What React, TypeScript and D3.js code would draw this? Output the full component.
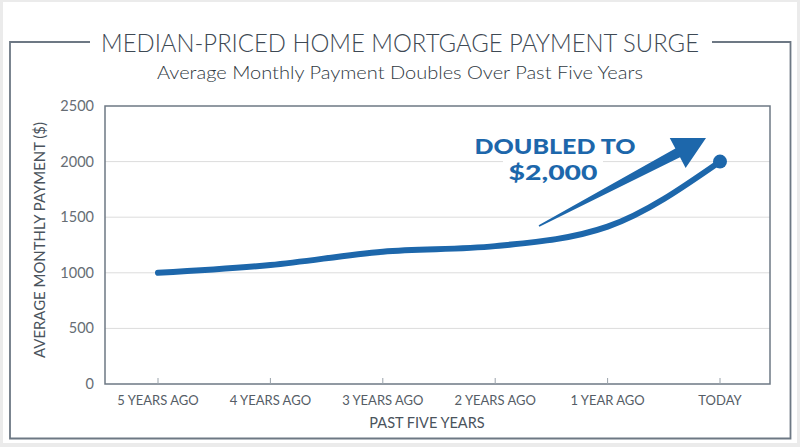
import React from "react";
import * as d3 from "d3";

const categories = ["5 YEARS AGO", "4 YEARS AGO", "3 YEARS AGO", "2 YEARS AGO", "1 YEAR AGO", "TODAY"];
const payments = [1000, 1070, 1190, 1240, 1415, 2000];
const yTicks = [0, 500, 1000, 1500, 2000, 2500];

const W = 800;
const H = 447;
const plot = { left: 105, right: 770, top: 106, bottom: 384 };
const BLUE = "#1d67ab";
const FRAME = "#6d7884";
const TEXT = "#3e4954";

export default function App() {
  const x = d3
    .scalePoint<string>()
    .domain(categories)
    .range([158, 720]);
  const y = d3.scaleLinear().domain([0, 2500]).range([plot.bottom, plot.top]);

  const line = d3
    .line<number>()
    .x((_, i) => x(categories[i]) as number)
    .y((d) => y(d))
    .curve(d3.curveMonotoneX);

  const lastX = x(categories[categories.length - 1]) as number;
  const lastY = y(payments[payments.length - 1]);

  // annotation arrow (tapered shaft + head)
  const tail = [539, 226];
  const tip = [706, 138];
  const dx = tip[0] - tail[0];
  const dy = tip[1] - tail[1];
  const len = Math.hypot(dx, dy);
  const ux = dx / len, uy = dy / len;
  const nx = -uy, ny = ux;
  const headLen = 32;
  const headHalf = 17;
  const shaftHalf = 5;
  const bx = tip[0] - ux * headLen, by = tip[1] - uy * headLen;
  const arrowPts = [
    [tail[0] + nx * 0.8, tail[1] + ny * 0.8],
    [bx + nx * shaftHalf, by + ny * shaftHalf],
    [bx + nx * headHalf, by + ny * headHalf],
    [tip[0], tip[1]],
    [bx - nx * headHalf, by - ny * headHalf],
    [bx - nx * shaftHalf, by - ny * shaftHalf],
    [tail[0] - nx * 0.8, tail[1] - ny * 0.8],
  ];

  return (
    <svg
      width={W}
      height={H}
      style={{ position: "absolute", left: 0, top: 0, display: "block" }}
      fontFamily="Lato, 'Open Sans', sans-serif"
    >
      <rect x={0} y={0} width={W} height={H} fill="#ebebeb" />
      <rect x={3} y={2} width={794} height={441} fill="#ffffff" />

      {/* outer frame with gap for title */}
      <path
        d={`M 90 42 H 10 V 438.5 H 790.5 V 42 H 712`}
        fill="none"
        stroke={FRAME}
        strokeWidth={1.8}
      />
      <text
        x={400}
        y={52}
        textAnchor="middle"
        fontSize={25}
        fontWeight={300}
        fill={TEXT}
        textLength={598}
        lengthAdjust="spacingAndGlyphs"
      >
        MEDIAN-PRICED HOME MORTGAGE PAYMENT SURGE
      </text>
      <text
        x={400}
        y={79}
        textAnchor="middle"
        fontSize={17.5}
        fontWeight={300}
        fill="#2f3942"
        textLength={486}
        lengthAdjust="spacingAndGlyphs"
      >
        Average Monthly Payment Doubles Over Past Five Years
      </text>

      {/* gridlines */}
      {yTicks.slice(1, -1).map((t) => (
        <line
          key={t}
          x1={plot.left}
          x2={plot.right}
          y1={y(t)}
          y2={y(t)}
          stroke="#dcdcdc"
          strokeWidth={1}
        />
      ))}

      {/* plot border */}
      <rect
        x={plot.left}
        y={plot.top}
        width={plot.right - plot.left}
        height={plot.bottom - plot.top}
        fill="none"
        stroke={FRAME}
        strokeWidth={1.5}
      />

      {/* x ticks */}
      {categories.map((c) => (
        <g key={c}>
          <line
            x1={x(c)}
            x2={x(c)}
            y1={plot.bottom}
            y2={plot.bottom - 6}
            stroke="#9aa3ab"
            strokeWidth={1}
          />
          <text
            x={x(c)}
            y={405}
            textAnchor="middle"
            fontSize={13}
            fill="#555d66"
          >
            {c}
          </text>
        </g>
      ))}

      {/* y ticks */}
      {yTicks.map((t) => (
        <text
          key={t}
          x={94}
          y={y(t) + 5}
          textAnchor="end"
          fontSize={14.5}
          fill="#666d74"
        >
          {t}
        </text>
      ))}

      <text
        x={427}
        y={428}
        textAnchor="middle"
        fontSize={14.5}
        fill="#4a535c"
      >
        PAST FIVE YEARS
      </text>
      <text
        transform={`translate(45, ${240}) rotate(-90)`}
        textAnchor="middle"
        fontSize={14.5}
        fill="#4a535c"
        textLength={236}
        lengthAdjust="spacingAndGlyphs"
      >
        AVERAGE MONTHLY PAYMENT ($)
      </text>

      {/* data line */}
      <path
        d={line(payments) as string}
        fill="none"
        stroke={BLUE}
        strokeWidth={6}
        strokeLinecap="round"
      />
      <circle cx={lastX} cy={lastY} r={7} fill={BLUE} />

      {/* annotation */}
      <polygon points={arrowPts.map((p) => p.join(",")).join(" ")} fill={BLUE} />
      <rect x={503} y={159} width={100} height={24} fill="#ffffff" />
      <text
        x={555}
        y={153.5}
        textAnchor="middle"
        fontSize={21.5}
        fontWeight={900}
        fill={BLUE}
        textLength={161}
        lengthAdjust="spacingAndGlyphs"
      >
        DOUBLED TO
      </text>
      <text
        x={553}
        y={179.5}
        textAnchor="middle"
        fontSize={21.5}
        fontWeight={900}
        fill={BLUE}
        textLength={89}
        lengthAdjust="spacingAndGlyphs"
      >
        $2,000
      </text>
    </svg>
  );
}
